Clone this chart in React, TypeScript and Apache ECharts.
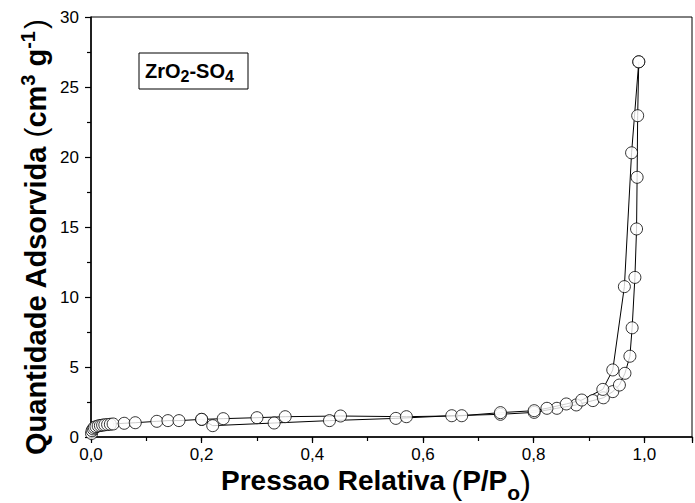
import { useEffect, useRef } from "react";
import * as echarts from "echarts";

// Nitrogen isotherm of ZrO2-SO4: adsorption branch (P/Po, volume)
const adsorptionP = [
  0.001, 0.002, 0.004, 0.006, 0.009, 0.013, 0.017, 0.021, 0.025, 0.03, 0.035,
  0.04, 0.06, 0.08, 0.119, 0.139, 0.159, 0.2, 0.22, 0.331, 0.431, 0.551, 0.652,
  0.74, 0.801, 0.842, 0.877, 0.907, 0.926, 0.943, 0.955, 0.965, 0.974, 0.978,
  0.983, 0.986, 0.987, 0.988, 0.99,
];
const adsorptionV = [
  0.25, 0.45, 0.58, 0.68, 0.74, 0.79, 0.82, 0.85, 0.87, 0.89, 0.91, 0.93, 0.98,
  1.02, 1.12, 1.17, 1.17, 1.26, 0.81, 1.0, 1.17, 1.33, 1.52, 1.62, 1.76, 2.05,
  2.29, 2.6, 2.8, 3.24, 3.71, 4.55, 5.77, 7.8, 11.4, 14.86, 18.55, 22.95, 26.8,
];

// Desorption branch
const desorptionP = [
  0.99, 0.977, 0.964, 0.943, 0.925, 0.887, 0.859, 0.824, 0.801, 0.74, 0.67,
  0.57, 0.451, 0.351, 0.3, 0.239, 0.2,
];
const desorptionV = [
  26.8, 20.3, 10.74, 4.79, 3.4, 2.64, 2.36, 2.05, 1.88, 1.74, 1.52, 1.45, 1.5,
  1.45, 1.38, 1.31, 1.26,
];

const xTickLabels = ["0,0", "0,2", "0,4", "0,6", "0,8", "1,0"];
const yTickLabels = ["0", "5", "10", "15", "20", "25", "30"];

const FONT = '"Liberation Sans", Arial, Helvetica, sans-serif';

type Piece = { text: string; size: number; bold?: boolean; shift?: number; gap?: number };

// Lays out text pieces one after another along a common baseline (local y = 0).
function runOfText(pieces: Piece[]) {
  const ctx = document.createElement("canvas").getContext("2d")!;
  let x = 0;
  return pieces.map((p) => {
    x += p.gap ?? 0;
    ctx.font = `${p.bold ? "bold " : ""}${p.size}px ${FONT}`;
    const w = ctx.measureText(p.text).width;
    const el = {
      type: "text",
      x,
      y: (p.shift ?? 0) - 0.35 * p.size,
      style: {
        text: p.text,
        fontSize: p.size,
        fontWeight: p.bold ? "bold" : "normal",
        fontFamily: FONT,
        lineHeight: p.size,
        fill: "#000",
        align: "left",
        verticalAlign: "middle",
      },
    };
    x += w;
    return el;
  });
}

export default function App() {
  const ref = useRef<HTMLDivElement>(null);

  useEffect(() => {
    if (!ref.current) return;
    const chart = echarts.init(ref.current, null, { renderer: "svg" });
    const pairs = (p: number[], v: number[]) => p.map((x, i) => [x, v[i]]);
    const ads = pairs(adsorptionP, adsorptionV);
    const des = pairs(desorptionP, desorptionV);

    const lineStyle = { color: "#000", width: 1 };
    const circleStyle = { color: "#fff", borderColor: "#000", borderWidth: 1 };
    const xMax = 1.0862;

    const xTitle = runOfText([
      { text: "Pressao Relativa", size: 28, bold: true },
      { text: "(", size: 33, gap: 6, shift: 4 },
      { text: "P/P", size: 28, bold: true },
      { text: "o", size: 21, bold: true, shift: 10 },
      { text: ")", size: 33, shift: 4 },
    ]);
    const yTitle = runOfText([
      { text: "Quantidade Adsorvida", size: 29, bold: true },
      { text: "(", size: 30, gap: 8 },
      { text: "cm", size: 29, bold: true },
      { text: "3", size: 20, bold: true, shift: -11 },
      { text: "g", size: 29, bold: true, gap: 8 },
      { text: "-1", size: 20, bold: true, shift: -11 },
      { text: ")", size: 30, gap: 2 },
    ]);

    chart.setOption({
      animation: false,
      backgroundColor: "#fff",
      grid: {
        left: 91,
        right: -1,
        top: 17,
        bottom: 66,
        show: true,
        borderColor: "#000",
        borderWidth: 1,
        backgroundColor: "transparent",
      },
      xAxis: [
        {
          type: "value",
          min: 0,
          max: xMax,
          interval: 0.2,
          position: "bottom",
          axisLine: { lineStyle: { color: "#000", width: 1.5 } },
          axisTick: { length: 6, lineStyle: { color: "#000", width: 1.2 } },
          splitLine: { show: false },
          axisLabel: {
            margin: 9,
            color: "#000",
            fontSize: 17,
            lineHeight: 17,
            fontFamily: FONT,
            formatter: (v: number) => {
              const i = Math.round(v / 0.2);
              return Math.abs(v - i * 0.2) < 1e-6 && i < xTickLabels.length
                ? xTickLabels[i]
                : "";
            },
          },
        },
        {
          type: "value",
          min: 0,
          max: xMax,
          interval: 0.1,
          position: "bottom",
          axisLine: { show: false },
          axisTick: { length: 4, lineStyle: { color: "#000", width: 1.2 } },
          axisLabel: { show: false },
          splitLine: { show: false },
        },
      ],
      yAxis: {
        type: "value",
        min: 0,
        max: 30,
        interval: 5,
        axisLine: { show: true, lineStyle: { color: "#000", width: 1.5 } },
        axisTick: { show: true, length: 6, lineStyle: { color: "#000", width: 1.2 } },
        minorTick: { show: true, splitNumber: 2, length: 4, lineStyle: { color: "#000", width: 1.2 } },
        splitLine: { show: false },
        axisLabel: {
          margin: 12,
          color: "#000",
          fontSize: 17,
          fontFamily: FONT,
          formatter: (v: number) => yTickLabels[Math.round(v / 5)] ?? "",
        },
      },
      series: [
        { type: "line", data: ads, showSymbol: false, symbol: "none", lineStyle, z: 2 },
        { type: "line", data: des, showSymbol: false, symbol: "none", lineStyle, z: 2 },
        { type: "scatter", data: ads, symbol: "circle", symbolSize: 12, itemStyle: circleStyle, z: 3 },
        { type: "scatter", data: des, symbol: "circle", symbolSize: 12, itemStyle: circleStyle, z: 3 },
      ],
      graphic: [
        {
          type: "rect",
          shape: { x: 139, y: 53, width: 109, height: 36 },
          style: { fill: "#fff", stroke: "#000", lineWidth: 1 },
          z: 10,
        },
        {
          type: "text",
          x: 145,
          y: 71,
          z: 11,
          style: {
            text: "{b|ZrO}{s|2}{b|-SO}{s|4}",
            align: "left",
            verticalAlign: "middle",
            rich: {
              b: { fontSize: 20, fontWeight: "bold", fontFamily: FONT, lineHeight: 26, verticalAlign: "middle", fill: "#000" },
              s: { fontSize: 16, fontWeight: "bold", fontFamily: FONT, lineHeight: 16, verticalAlign: "bottom", fill: "#000" },
            },
          },
        },
        { type: "group", x: 221, y: 490, z: 11, children: xTitle },
        { type: "group", x: 46, y: 455, rotation: Math.PI / 2, z: 11, children: yTitle },
      ],
    });

    return () => chart.dispose();
  }, []);

  return (
    <div
      ref={ref}
      style={{ position: "absolute", left: 0, top: 0, width: 695, height: 503 }}
    />
  );
}
